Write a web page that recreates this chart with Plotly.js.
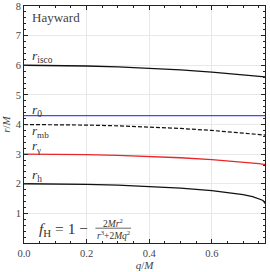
<!DOCTYPE html>
<html><head><meta charset="utf-8">
<script src="https://cdn.plot.ly/plotly-3.0.1.min.js"></script>
<style>html,body{margin:0;padding:0;background:#fff}</style>
</head><body>
<div id="c" style="width:270px;height:272px"></div>
<script>
const q = [0, 0.1, 0.2, 0.3, 0.4, 0.5, 0.6, 0.65, 0.7, 0.73, 0.75, 0.76, 0.765, 0.768, 0.769, 0.7698];
const rIsco = [6.0, 5.994, 5.975, 5.944, 5.900, 5.842, 5.769, 5.728, 5.681, 5.651, 5.631, 5.620, 5.614, 5.611, 5.610, 5.609];
const r0 = [4.3, 4.3, 4.3, 4.3, 4.3, 4.3, 4.3, 4.3, 4.3, 4.3, 4.3, 4.3, 4.3, 4.3, 4.3, 4.3];
const rMb = [4.0, 3.995, 3.980, 3.954, 3.917, 3.866, 3.801, 3.761, 3.716, 3.686, 3.665, 3.654, 3.649, 3.645, 3.644, 3.643];
const rGamma = [3.0, 2.9955, 2.982, 2.959, 2.925, 2.878, 2.815, 2.7765, 2.731, 2.700, 2.677, 2.665, 2.658, 2.655, 2.653, 2.652];
const rH = [2.0, 1.995, 1.980, 1.953, 1.9125, 1.855, 1.770, 1.712, 1.632, 1.565, 1.5, 1.452, 1.417, 1.386, 1.369, 1.333];
const xTicks = [0, 0.2, 0.4, 0.6];
const yTicks = [1, 2, 3, 4, 5, 6, 7, 8];

const F = "Liberation Serif, DejaVu Serif, serif";
const TC = '#333';
const traces = [
  {x: q, y: rIsco, mode: 'lines', line: {color: '#111', width: 1.3}},
  {x: q, y: r0, mode: 'lines', line: {color: '#4646ff', width: 1.4}},
  {x: q, y: rMb, mode: 'lines', line: {color: '#111', width: 1.2, dash: '4px,2px'}},
  {x: q, y: rGamma, mode: 'lines', line: {color: '#e8262a', width: 1.3}},
  {x: q, y: rH, mode: 'lines', line: {color: '#111', width: 1.3}}
];
const ax = {
  showline: true, linecolor: '#222', linewidth: 1, mirror: 'ticks',
  ticks: 'inside', ticklen: 4, tickcolor: '#222', tickwidth: 1,
  showgrid: true, gridcolor: '#e8e8e8', gridwidth: 1, zeroline: false,
  tickfont: {family: F, size: 10.5, color: '#444'}
};
const ann = (x, y, text, size, extra) => Object.assign({x: x, y: y, xref: 'x', yref: 'y', text: text, showarrow: false,
  font: {family: F, size: size, color: TC}, xanchor: 'left', yanchor: 'middle'}, extra || {});
const layout = {
  width: 270, height: 272,
  margin: {l: 24, r: 5, t: 6, b: 29},
  paper_bgcolor: '#fff', plot_bgcolor: '#fff',
  showlegend: false,
  xaxis: Object.assign({}, ax, {range: [0, 0.7698], tickvals: xTicks, ticktext: xTicks.map(v => v.toFixed(1)),
    minor: {dtick: 0.05, ticks: 'inside', ticklen: 2, tickcolor: '#222', showgrid: false},
    title: {text: '<i>q</i>/<i>M</i>', font: {family: F, size: 11, color: '#444'}, standoff: 2}}),
  yaxis: Object.assign({}, ax, {range: [0, 8], tickvals: yTicks,
    minor: {dtick: 0.2, ticks: 'inside', ticklen: 2, tickcolor: '#222', showgrid: false},
    title: {text: '<i>r</i>/<i>M</i>', font: {family: F, size: 11, color: '#444'}, standoff: 4}}),
  annotations: [
    ann(0.02, 7.62, 'Hayward', 13, {font: {family: F, size: 13, color: '#444'}}),
    ann(0.02, 6.3, '<i>r</i><sub>isco</sub>', 13.5),
    ann(0.02, 4.47, '<i>r</i><sub>0</sub>', 13.5),
    ann(0.02, 3.75, '<i>r</i><sub>mb</sub>', 13),
    ann(0.02, 3.25, '<i>r</i><sub>γ</sub>', 13),
    ann(0.02, 2.28, '<i>r</i><sub>h</sub>', 13.5),
    ann(0.04, 0.45, '<i>f</i><sub>H</sub> = 1 − ', 15.5),
    ann(0.285, 0.69, '2<i>Mr</i><sup>2</sup>', 9.5, {xanchor: 'center'}),
    ann(0.285, 0.27, '<i>r</i><sup>3</sup>+2<i>Mq</i><sup>2</sup>', 9.5, {xanchor: 'center'})
  ],
  shapes: [
    {type: 'line', xref: 'x', yref: 'y', x0: 0.228, x1: 0.342, y0: 0.5, y1: 0.5, line: {color: '#444', width: 0.8}}
  ]
};
Plotly.newPlot('c', traces, layout, {staticPlot: true, displayModeBar: false});
</script>
</body></html>
